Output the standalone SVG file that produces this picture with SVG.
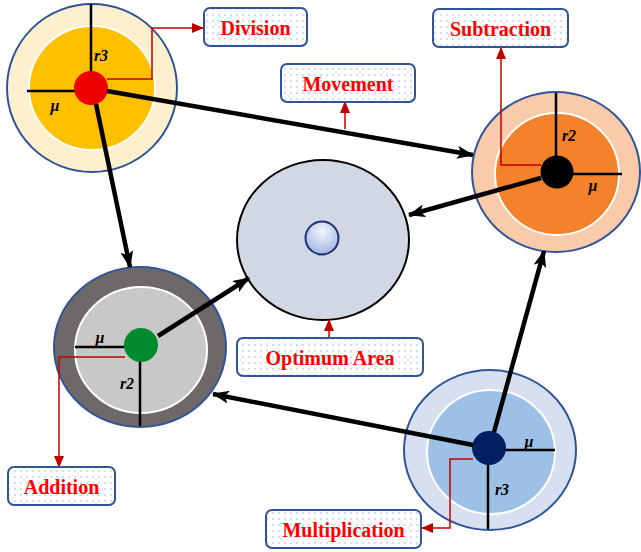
<svg xmlns="http://www.w3.org/2000/svg" width="641" height="552" viewBox="0 0 641 552">
<defs>
<pattern id="dots" width="6" height="6" patternUnits="userSpaceOnUse">
<rect width="6" height="6" fill="#ffffff"/>
<circle cx="3" cy="3" r="0.8" fill="#9db4e0"/>
</pattern>
<radialGradient id="core" cx="0.5" cy="0.3" r="0.7">
<stop offset="0" stop-color="#f4f7fc"/>
<stop offset="1" stop-color="#9fb4e0"/>
</radialGradient>
<marker id="ah" markerWidth="17" markerHeight="13" refX="16" refY="6.5" orient="auto" markerUnits="userSpaceOnUse">
<path d="M0,0 L17,6.5 L0,13 L4,6.5 Z" fill="#000"/>
</marker>
<marker id="rh" markerWidth="12" markerHeight="10" refX="11" refY="5" orient="auto" markerUnits="userSpaceOnUse">
<path d="M0,0 L12,5 L0,10 Z" fill="#c00000"/>
</marker>
</defs>
<style>
.box{fill:url(#dots);stroke:#2f5597;stroke-width:2}
.lbl{font-family:"Liberation Serif",serif;font-weight:bold;font-size:20px;fill:#ff0000;text-anchor:middle}
.var{font-family:"Liberation Serif",serif;font-weight:bold;font-style:italic;font-size:16px;fill:#000;text-anchor:middle}
.outer{stroke:#2f5597;stroke-width:2}
.inner{stroke:#ffffff;stroke-width:2}
.axis{stroke:#000;stroke-width:2.5;fill:none}
.red{stroke:#c00000;stroke-width:1.5;fill:none}
.arr{stroke:#000;stroke-width:4.5;fill:none}
</style>

<g id="node-center">
<ellipse cx="323" cy="240" rx="86" ry="80" fill="#d1d8e4" stroke="#000" stroke-width="2"/>
<circle cx="322" cy="238" r="16.5" fill="url(#core)" stroke="#1a2f7a" stroke-width="2"/>
</g>

<g id="node-division">
<ellipse class="outer" cx="92" cy="88" rx="85" ry="84" fill="#feefcf"/>
<ellipse class="inner" cx="92" cy="88" rx="63" ry="62" fill="#ffc000"/>
<path class="axis" d="M91,4 V88 M27,91 H91"/>
<circle cx="91" cy="88" r="17" fill="#ee0000"/>
<text class="var" x="101" y="61">r3</text>
<text class="var" x="55" y="111">μ</text>
</g>

<g id="node-subtraction">
<ellipse class="outer" cx="556" cy="172" rx="84" ry="80" fill="#f9cbaa"/>
<ellipse class="inner" cx="557" cy="174" rx="62" ry="61" fill="#f4822a"/>
<path class="axis" d="M556,93 V172 M557,174 H622"/>
<circle cx="557" cy="172" r="16.5" fill="#000"/>
<text class="var" x="569" y="141">r2</text>
<text class="var" x="593" y="191">μ</text>
</g>

<g id="node-addition">
<ellipse class="outer" cx="140" cy="347" rx="86" ry="80" fill="#6e6968"/>
<ellipse class="inner" cx="141" cy="350" rx="66" ry="63" fill="#c8c8c8"/>
<path class="axis" d="M75,347 H141 M140,347 V426"/>
<circle cx="141" cy="345" r="17" fill="#008a2e"/>
<text class="var" x="100" y="343">μ</text>
<text class="var" x="127" y="389">r2</text>
</g>

<g id="node-multiplication">
<ellipse class="outer" cx="490" cy="450" rx="86" ry="80" fill="#d7e0f1"/>
<ellipse class="inner" cx="491" cy="452" rx="64" ry="62" fill="#9dc1e6"/>
<path class="axis" d="M489,450 H555 M488,448 V529"/>
<circle cx="489" cy="448" r="17" fill="#002060"/>
<text class="var" x="529" y="447">μ</text>
<text class="var" x="502" y="495">r3</text>
</g>

<g id="connectors">
<path class="arr" d="M107,91 L473,155" marker-end="url(#ah)"/>
<path class="arr" d="M96,104 L130,267" marker-end="url(#ah)"/>
<path class="arr" d="M158,336 L249,278" marker-end="url(#ah)"/>
<path class="arr" d="M541,178 L409,215" marker-end="url(#ah)"/>
<path class="arr" d="M494,432 L544,251" marker-end="url(#ah)"/>
<path class="arr" d="M473,445 L213,394" marker-end="url(#ah)"/>
<path class="red" d="M107,79 H152 V28 H203" marker-end="url(#rh)"/>
<path class="red" d="M541,165 H501 V48" marker-end="url(#rh)"/>
<path class="red" d="M125,357 H59 V467" marker-end="url(#rh)"/>
<path class="red" d="M473,459 H450 V528 H422" marker-end="url(#rh)"/>
<path class="red" d="M345,129 V102" marker-end="url(#rh)"/>
<path class="red" d="M329,338 V320" marker-end="url(#rh)"/>
</g>

<g id="label-division">
<rect class="box" x="204" y="8" width="103" height="38" rx="6"/>
<text class="lbl" x="255.5" y="35">Division</text>
</g>
<g id="label-movement">
<rect class="box" x="281" y="64" width="134" height="38" rx="6"/>
<text class="lbl" x="348" y="91">Movement</text>
</g>
<g id="label-subtraction">
<rect class="box" x="433" y="9" width="135" height="38" rx="6"/>
<text class="lbl" x="500.5" y="36">Subtraction</text>
</g>
<g id="label-optimum">
<rect class="box" x="237" y="338" width="186" height="38" rx="6"/>
<text class="lbl" x="330" y="365">Optimum Area</text>
</g>
<g id="label-addition">
<rect class="box" x="8" y="467" width="107" height="38" rx="6"/>
<text class="lbl" x="61.5" y="494">Addition</text>
</g>
<g id="label-multiplication">
<rect class="box" x="266" y="510" width="155" height="38" rx="6"/>
<text class="lbl" x="343.5" y="537">Multiplication</text>
</g>
</svg>
